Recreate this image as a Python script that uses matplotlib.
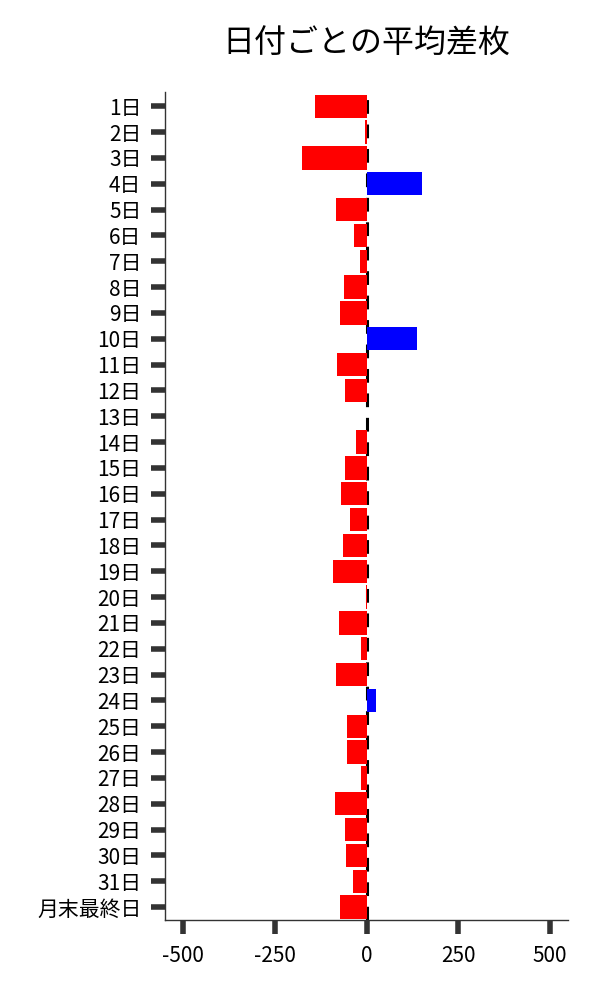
import numpy as np
import matplotlib
matplotlib.use('Agg')
import matplotlib.pyplot as plt

plt.rcParams['font.family'] = ['Noto Sans CJK JP', 'DejaVu Sans']

# 日付ラベルと平均差枚
days = ['{}日'.format(d) for d in range(1, 32)] + ['月末最終日']
avg_diff = [-140, -5, -176, 152, -83, -34, -18, -62, -73, 138,
            -81, -59, 0, -29, -59, -70, -45, -64, -91, -2,
            -75, -16, -83, 27, -54, -54, -16, -86, -59, -56,
            -37, -73]
xticks = [-500, -250, 0, 250, 500]

colors = ['blue' if v > 0 else 'red' for v in avg_diff]
y = np.arange(len(days))

fig = plt.figure(figsize=(6, 10), dpi=100)
ax = fig.add_axes([0.275, 0.08, 0.672, 0.828])

ax.axvline(0, color='black', linestyle=(0, (4.5, 3.5)), linewidth=2.2, zorder=1)
ax.barh(y, avg_diff, height=0.9, color=colors, zorder=2)

ax.set_yticks(y)
ax.set_yticklabels(days)
ax.set_ylim(len(days) - 0.5, -0.55)
ax.set_xlim(-550, 550)
ax.set_xticks(xticks)
ax.set_xticklabels([str(t) for t in xticks])

for s in ['top', 'right']:
    ax.spines[s].set_visible(False)
for s in ['left', 'bottom']:
    ax.spines[s].set_color('#333333')
    ax.spines[s].set_linewidth(1.0)

ax.tick_params(axis='both', length=10, width=4, color='#333333',
               labelsize=15, labelcolor='black')
ax.tick_params(axis='y', pad=7)
ax.tick_params(axis='x', pad=8)

fig.text(0.61, 0.956, '日付ごとの平均差枚', ha='center', va='center', fontsize=23)

plt.savefig('out.png', dpi=100)
